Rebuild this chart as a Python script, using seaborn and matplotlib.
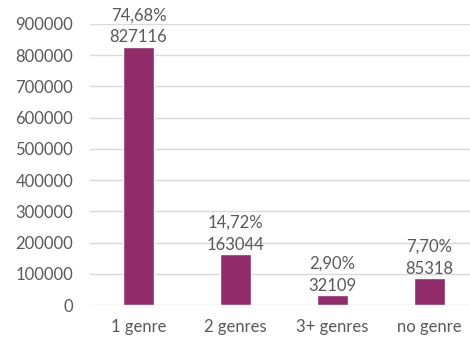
import matplotlib
matplotlib.use("Agg")
import matplotlib.pyplot as plt
import seaborn as sns
import pandas as pd

categories = ["1 genre", "2 genres", "3+ genres", "no genre"]
counts = [827116, 163044, 32109, 85318]
shares = ["74,68%", "14,72%", "2,90%", "7,70%"]
y_ticks = [0, 100000, 200000, 300000, 400000, 500000, 600000, 700000, 800000, 900000]

df = pd.DataFrame({"category": categories, "count": counts})

sns.set_style("white")
plt.rcParams["font.family"] = ["Lato", "DejaVu Sans"]

text_color = "#595959"
bar_color = "#922B6A"
font_size = 12

fig = plt.figure(figsize=(4.70, 3.39), dpi=100)
ax = fig.add_axes([90 / 470, 34 / 339, 388 / 470, 281 / 339])

sns.barplot(data=df, x="category", y="count", color=bar_color,
            width=0.32, saturation=1, ax=ax, zorder=3)

ax.set_xlim(-0.5, 3.5)
ax.set_ylim(0, 900000)
ax.set_yticks(y_ticks)
ax.set_yticklabels([str(v) for v in y_ticks])
ax.grid(axis="y", color="#D9D9D9", linewidth=1, zorder=0)
ax.set_axisbelow(True)
for s in ax.spines.values():
    s.set_visible(False)
ax.set_xlabel("")
ax.set_ylabel("")
ax.tick_params(axis="y", length=0, pad=12, labelsize=font_size, labelcolor=text_color)
ax.tick_params(axis="x", length=0, pad=10, labelsize=font_size, labelcolor=text_color)

for i, (c, p) in enumerate(zip(counts, shares)):
    ax.annotate(f"{p}\n{c}", xy=(i, c), xytext=(0, 1), textcoords="offset points",
                ha="center", va="bottom", fontsize=font_size, color=text_color,
                linespacing=1.45)

fig.savefig("out.png", dpi=100)
